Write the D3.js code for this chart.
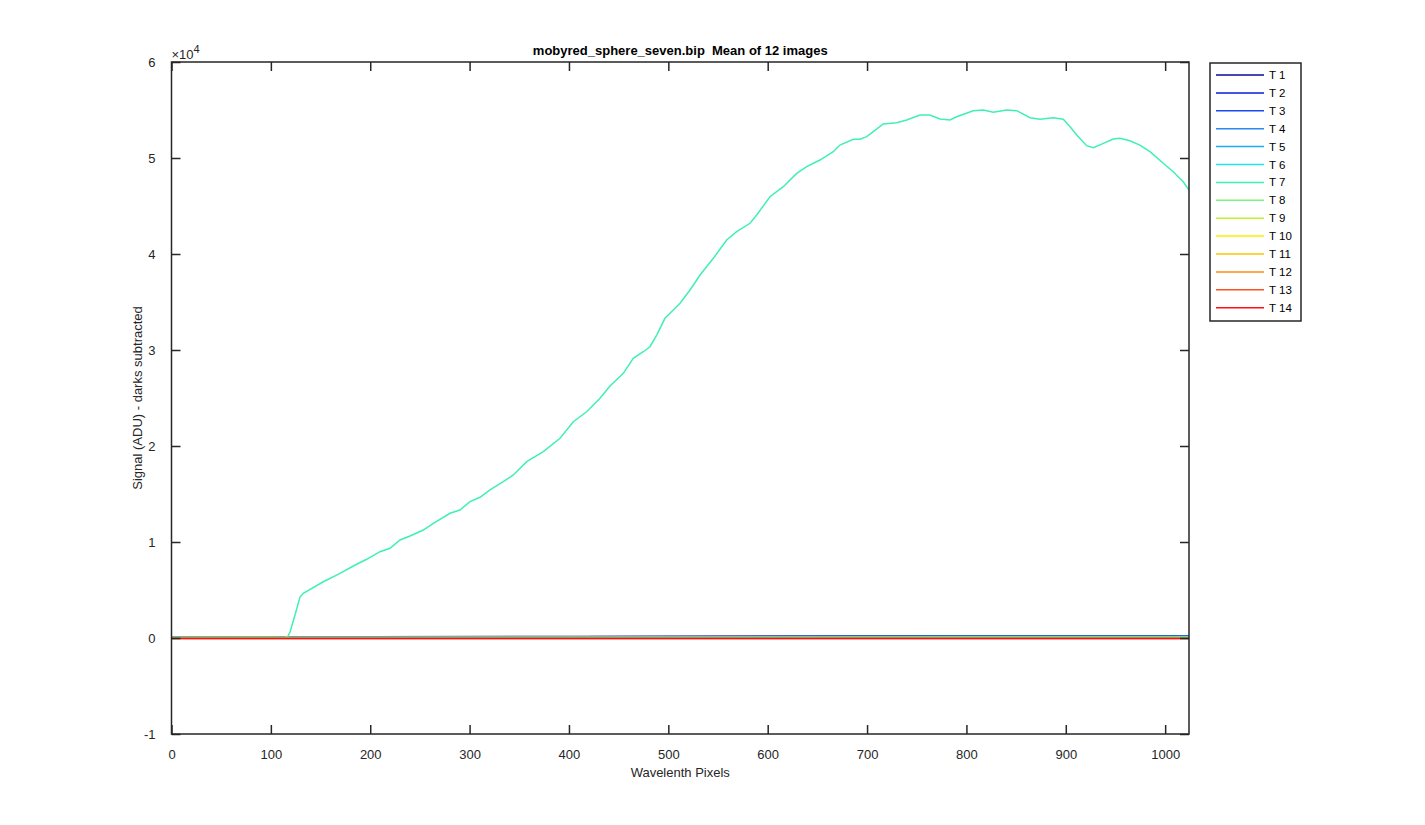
<!DOCTYPE html>
<html>
<head>
<meta charset="utf-8">
<script src="https://cdn.jsdelivr.net/npm/d3@7"></script>
<style>
  body { margin: 0; background: #fff; }
  svg { display: block; font-family: "Liberation Sans", Arial, Helvetica, sans-serif; }
</style>
</head>
<body>
<svg id="chart" width="1425" height="825"></svg>
<script>
// ---------- data ----------
const seriesNames = ["T 1","T 2","T 3","T 4","T 5","T 6","T 7","T 8","T 9","T 10","T 11","T 12","T 13","T 14"];
const seriesColors = ["#0a0a9a","#0a1ad8","#1a4af0","#2a8af0","#1ab0f0","#20e8e8","#40f0b0","#80f080","#c0f030","#f8f000","#ffc000","#ff8c10","#ff5020","#ff1010"];

const xTicks = [0,100,200,300,400,500,600,700,800,900,1000];
const yTicks = [-1,0,1,2,3,4,5,6];           // in units of 1e4

// baseline series (x, signal ADU)
const baseX = [0, 200, 400, 600, 800, 1024];
const t1 = [120, 140, 160, 180, 200, 200];
const t2 = [100, 120, 140, 160, 180, 180];
const t3 = [90, 110, 130, 150, 170, 170];
const t4 = [80, 100, 120, 140, 160, 160];
const t5 = [70, 90, 110, 130, 150, 150];
const t6 = [60, 80, 100, 120, 140, 140];
const t8 = [20, 20, 30, 30, 40, 40];
const t9 = [0, 0, 10, 10, 10, 10];
const t10 = [-10, -10, -10, -10, -10, -10];
const t11 = [-20, -20, -20, -20, -20, -20];
const t12 = [-30, -30, -30, -30, -30, -30];
const t13 = [-40, -40, -40, -40, -40, -40];
const t14 = [-50, -50, -50, -50, -50, -50];

// T 7 : the illuminated channel
const t7x = [0,50,100,113,117,119.3,124.3,129.3,132.6,152.8,169.6,183,196.4,209.8,219.9,230,240.1,253.4,263.5,280.3,290.3,300.4,310.5,320.5,333.9,344,357.5,374.2,391,404.4,417.8,431.2,441.3,454.7,464.7,474.8,481.5,488.3,496.6,501.7,511.8,521.8,528.6,531.9,545.3,558.7,568.8,582.2,588.9,602.3,615.7,629.2,639.2,652.6,666,672.7,686.2,692.9,699.6,706.3,716.3,729.8,739.9,753.3,763.3,773.4,783.5,790.2,806.9,817,827,840.6,850.6,864,874,887.4,897.5,904.3,911,921,927.7,937.8,947.8,954.5,964.6,974.6,984.7,998.1,1008.1,1018.2,1024];
const t7y = [80,80,80,60,150,625,2400,4270,4660,5860,6740,7500,8200,8990,9340,10210,10625,11250,11950,12990,13330,14200,14660,15420,16280,16980,18370,19410,20800,22530,23570,24970,26250,27570,29140,29820,30340,31560,33300,33820,34870,36250,37290,37810,39550,41460,42320,43200,44060,45970,47010,48400,49100,49790,50660,51350,51950,51950,52220,52740,53540,53680,53960,54480,54480,54060,53960,54300,54930,55000,54760,55000,54930,54200,54030,54200,54030,53260,52400,51280,51070,51530,51980,52050,51800,51350,50660,49450,48570,47530,46670];

const series = [
  {x: baseX, y: t1}, {x: baseX, y: t2}, {x: baseX, y: t3}, {x: baseX, y: t4},
  {x: baseX, y: t5}, {x: baseX, y: t6}, {x: t7x, y: t7y}, {x: baseX, y: t8},
  {x: baseX, y: t9}, {x: baseX, y: t10}, {x: baseX, y: t11}, {x: baseX, y: t12},
  {x: baseX, y: t13}, {x: baseX, y: t14}
];

// ---------- layout ----------
const svg = d3.select("#chart");
const L = 171.5, R = 1189, T = 62, B = 734;
const x = d3.scaleLinear().domain([0, 1024]).range([L, R]);
const y = d3.scaleLinear().domain([-10000, 60000]).range([B, T]);
const axisColor = "#262626";
const tickLen = 9;

svg.append("rect").attr("x", 0).attr("y", 0).attr("width", 1425).attr("height", 825).attr("fill", "#fff");

// lines
svg.append("defs").append("clipPath").attr("id", "clip")
  .append("rect").attr("x", L).attr("y", T).attr("width", R - L).attr("height", B - T);
const lineGen = d3.line().x(d => x(d[0])).y(d => y(d[1]));
const gLines = svg.append("g").attr("clip-path", "url(#clip)");
series.forEach((s, i) => {
  const pts = s.x.map((xv, j) => [xv, s.y[j]]);
  gLines.append("path").datum(pts)
    .attr("d", lineGen)
    .attr("fill", "none")
    .attr("stroke", seriesColors[i])
    .attr("stroke-width", 1.5);
});

// axes (MATLAB box with inward ticks)
const fmtInt = v => String(Math.round(v));
const gAxes = svg.append("g");
const bottomAxis = d3.axisBottom(x).tickValues(xTicks).tickSize(-tickLen).tickPadding(tickLen + 7).tickFormat(fmtInt);
const topAxis = d3.axisTop(x).tickValues(xTicks).tickSize(-tickLen).tickFormat("");
const leftAxis = d3.axisLeft(y).tickValues(yTicks.map(v => v * 10000)).tickSize(-tickLen).tickPadding(tickLen + 7).tickFormat(d => fmtInt(d / 10000));
const rightAxis = d3.axisRight(y).tickValues(yTicks.map(v => v * 10000)).tickSize(-tickLen).tickFormat("");

function styleAxis(g) {
  g.select(".domain").remove();
  g.selectAll(".tick line").attr("stroke", axisColor).attr("stroke-width", 1.5);
  g.selectAll(".tick text").attr("fill", axisColor).style("font-size", "13px")
    .style("font-family", "'Liberation Sans', Arial, sans-serif");
}
gAxes.append("g").attr("transform", `translate(0,${B})`).call(bottomAxis).call(styleAxis);
gAxes.append("g").attr("transform", `translate(0,${T})`).call(topAxis).call(styleAxis);
gAxes.append("g").attr("transform", `translate(${L},0)`).call(leftAxis).call(styleAxis);
gAxes.append("g").attr("transform", `translate(${R},0)`).call(rightAxis).call(styleAxis);

gAxes.append("rect").attr("x", L).attr("y", T).attr("width", R - L).attr("height", B - T)
  .attr("fill", "none").attr("stroke", axisColor).attr("stroke-width", 1.5);

// exponent label
const expT = svg.append("text").attr("x", L).attr("y", T - 3).attr("fill", axisColor).style("font-size", "13px");
expT.append("tspan").text("\u00d710");
expT.append("tspan").attr("dy", -6).style("font-size", "11px").text("4");

// title
svg.append("text").attr("x", (L + R) / 2).attr("y", T - 7).attr("text-anchor", "middle")
  .attr("fill", "#000").style("font-size", "13px").style("font-weight", "bold")
  .style("white-space", "pre").attr("xml:space", "preserve")
  .text("mobyred_sphere_seven.bip  Mean of 12 images");

// axis labels
svg.append("text").attr("x", (L + R) / 2).attr("y", 777).attr("text-anchor", "middle")
  .attr("fill", axisColor).style("font-size", "13px").text("Wavelenth Pixels");
svg.append("text").attr("transform", `translate(142,${(T + B) / 2}) rotate(-90)`).attr("text-anchor", "middle")
  .attr("fill", axisColor).style("font-size", "13px").text("Signal (ADU) - darks subtracted");

// legend
const lg = svg.append("g");
const lgX = 1210, lgY = 63, lgW = 91, lgH = 258, rowH = 17.9, firstRow = 75;
lg.append("rect").attr("x", lgX).attr("y", lgY).attr("width", lgW).attr("height", lgH)
  .attr("fill", "#fff").attr("stroke", axisColor).attr("stroke-width", 1.5);
seriesNames.forEach((n, i) => {
  const yy = firstRow + i * rowH;
  lg.append("line").attr("x1", 1216).attr("x2", 1264).attr("y1", yy).attr("y2", yy)
    .attr("stroke", seriesColors[i]).attr("stroke-width", 1.5);
  lg.append("text").attr("x", 1269).attr("y", yy + 4).attr("fill", "#000")
    .style("font-size", "11.5px").text(n);
});
</script>
</body>
</html>
